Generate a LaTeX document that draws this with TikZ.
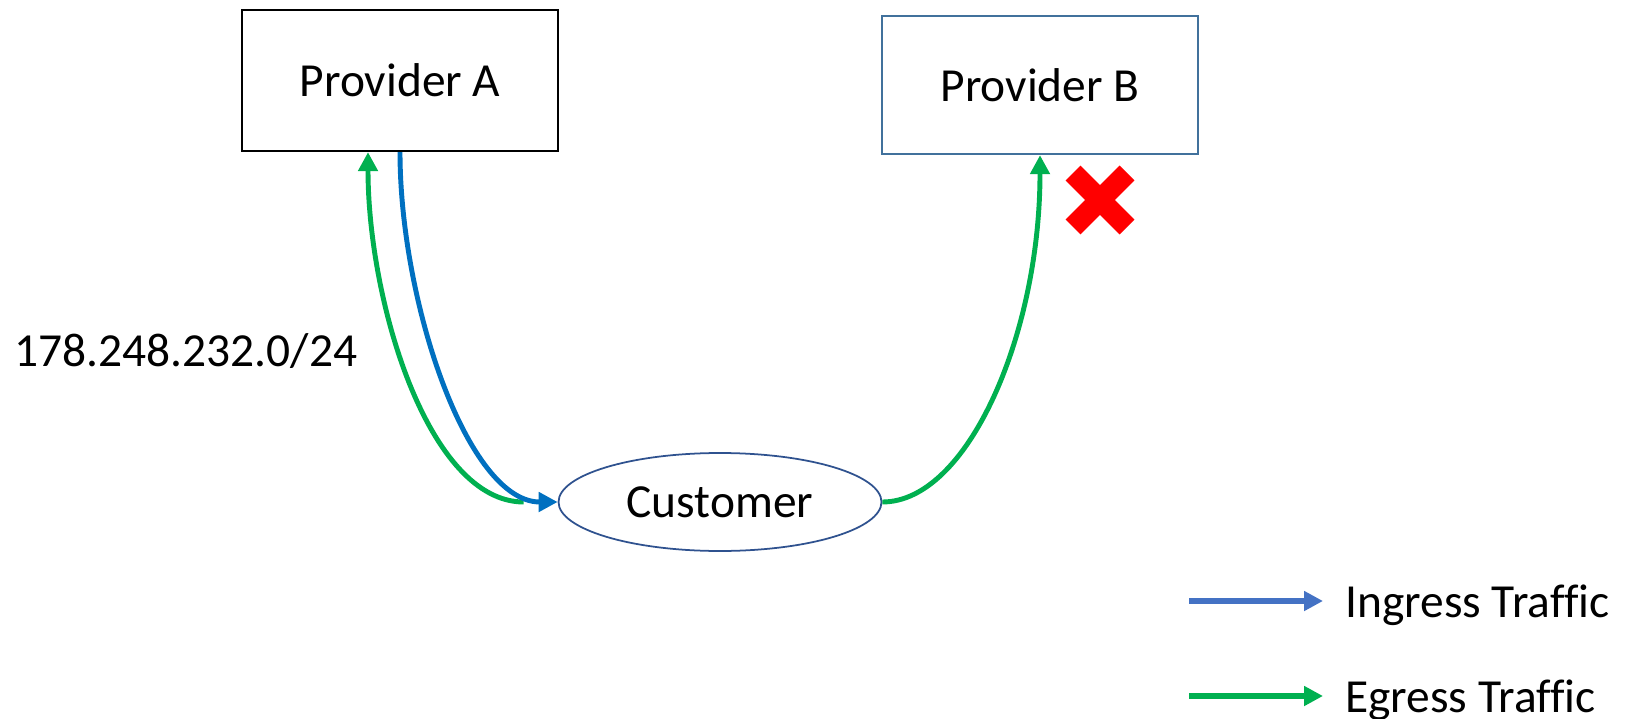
\documentclass[tikz,border=0pt]{standalone}
\usepackage{fontspec}
\setmainfont{Carlito}[Ligatures=NoCommon]
\usetikzlibrary{arrows.meta,shapes.geometric}
\definecolor{egreen}{HTML}{00B050}
\definecolor{iblue}{HTML}{0070C0}
\definecolor{lblue}{HTML}{4472C4}
\definecolor{bframe}{HTML}{41719C}
\definecolor{cframe}{HTML}{2F528F}
\tikzset{
  provider/.style={draw, line width=1.3pt, minimum width=6.32cm, inner sep=0pt},
  flow/.style={line width=2.8pt, -{Triangle[length=0.38cm,width=0.38cm]}},
  legendtext/.style={anchor=base west, inner xsep=0.44cm, inner ysep=0pt}
}
\begin{document}
\begin{tikzpicture}[x=0.02cm, y=-0.02cm, font=\fontsize{27}{32}\selectfont]
	\useasboundingbox (0,0) rectangle (1631,719);

	% Providers and customer
	\node[provider, minimum height=2.82cm] (provA) at (400,80.5) {Provider A};
	\node[provider, draw=bframe, minimum height=2.76cm] (provB) at (1040,85) {Provider B};
	\node[ellipse, draw=cframe, line width=1pt, minimum width=6.46cm, minimum height=1.96cm, inner sep=0pt] (cust) at (720,502) {Customer};

	% Traffic to and from Provider A
	\coordinate (gA) at ([xshift=-0.68cm]cust.west);
	\draw[flow, egreen] (gA) .. controls +(-95,0) and +(0,150) .. ([xshift=-0.64cm]provA.south);
	\draw[flow, iblue] (provA.south) .. controls +(0,150) and +(-90,0) .. (cust.west);

	% Traffic to Provider B
	\draw[flow, egreen] (cust.east) .. controls +(85,0) and +(0,180) .. (provB.south);

	% Red cross
	\draw[red, line width=0.42cm] (1073,173) -- (1127,227) (1073,227) -- (1127,173);

	% Prefix
	\node[anchor=base west, inner sep=0pt] (prefix) at (14,366) {178.248.232.0/24};

	% Legend
	\coordinate (inS) at (1189,601);
	\coordinate (egS) at (1189,696);
	\node[legendtext] (ingress) at (1323,617) {Ingress Traffic};
	\node[legendtext] (egress) at (1323,712) {Egress Traffic};
	\draw[flow, lblue, line width=3.2pt] (inS) -- (inS -| ingress.west);
	\draw[flow, egreen, line width=3.2pt] (egS) -- (egS -| egress.west);
\end{tikzpicture}
\end{document}
